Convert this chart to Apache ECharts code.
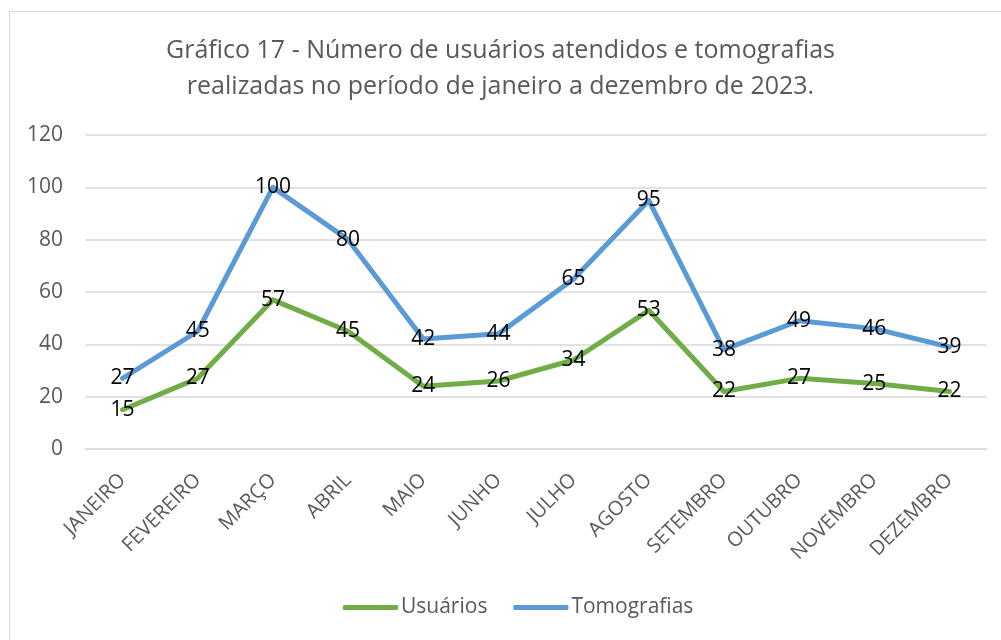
<!DOCTYPE html>
<html>
<head>
<meta charset="utf-8">
<script src="https://cdn.jsdelivr.net/npm/echarts@6/dist/echarts.min.js"></script>
<style>
  html, body { margin: 0; padding: 0; background: #fff; }
  #frame { position: absolute; left: 9px; top: 11px; width: 1000px; height: 640px; border: 1px solid #d9d9d9; box-sizing: border-box; }
  #chart { position: absolute; left: 0; top: 0; width: 1001px; height: 640px; }
</style>
</head>
<body>
<div id="frame"></div>
<div id="chart"></div>
<script>
const months = ['JANEIRO', 'FEVEREIRO', 'MARÇO', 'ABRIL', 'MAIO', 'JUNHO', 'JULHO', 'AGOSTO', 'SETEMBRO', 'OUTUBRO', 'NOVEMBRO', 'DEZEMBRO'];
const usuarios = [15, 27, 57, 45, 24, 26, 34, 53, 22, 27, 25, 22];
const tomografias = [27, 45, 100, 80, 42, 44, 65, 95, 38, 49, 46, 39];

const font = '"Open Sans", "Noto Sans", sans-serif';
const grey = '#595959';

const chart = echarts.init(document.getElementById('chart'));

// labels centred on the points, like the Excel original
function lineSeries(name, data, color) {
    return {
        name: name,
        type: 'line',
        data: data,
        symbol: 'circle',
        symbolSize: 1,
        itemStyle: { color: color },
        lineStyle: { color: color, width: 5, cap: 'round', join: 'round' },
        label: {
            show: true,
            position: 'inside',
            color: '#000',
            fontFamily: font,
            fontSize: 21
        },
        emphasis: { disabled: true },
        animation: false
    };
}

const option = {
    title: {
        text: 'Gráfico 17 - Número de usuários atendidos e tomografias\nrealizadas no período de janeiro a dezembro de 2023.',
        left: 'center',
        top: 28,
        textStyle: {
            fontFamily: font,
            fontSize: 25,
            fontWeight: 'normal',
            color: grey,
            lineHeight: 36
        }
    },
    legend: {
        bottom: 17,
        left: 338,
        icon: 'roundRect',
        itemWidth: 55,
        itemHeight: 5,
        itemGap: 26,
        textStyle: { fontFamily: font, fontSize: 21, color: grey, padding: [0, 0, 0, -2] },
        data: ['Usuários', 'Tomografias']
    },
    grid: {
        left: 85,
        right: 14,
        top: 135,
        bottom: 191
    },
    xAxis: {
        type: 'category',
        data: months,
        boundaryGap: true,
        axisLine: { lineStyle: { color: '#d9d9d9', width: 1 } },
        axisTick: { show: false },
        axisLabel: {
            rotate: 45,
            interval: 0,
            margin: 28,
            fontFamily: font,
            fontSize: 20,
            color: grey
        }
    },
    yAxis: {
        type: 'value',
        min: 0,
        max: 120,
        interval: 20,
        axisLine: { show: false },
        axisTick: { show: false },
        splitLine: { lineStyle: { color: '#d9d9d9', width: 1.5 } },
        axisLabel: {
            margin: 22,
            fontFamily: font,
            fontSize: 21,
            color: grey
        }
    },
    series: [
        lineSeries('Usuários', usuarios, '#70ad47'),
        lineSeries('Tomografias', tomografias, '#5b9bd5')
    ]
};

chart.setOption(option);
</script>
</body>
</html>
